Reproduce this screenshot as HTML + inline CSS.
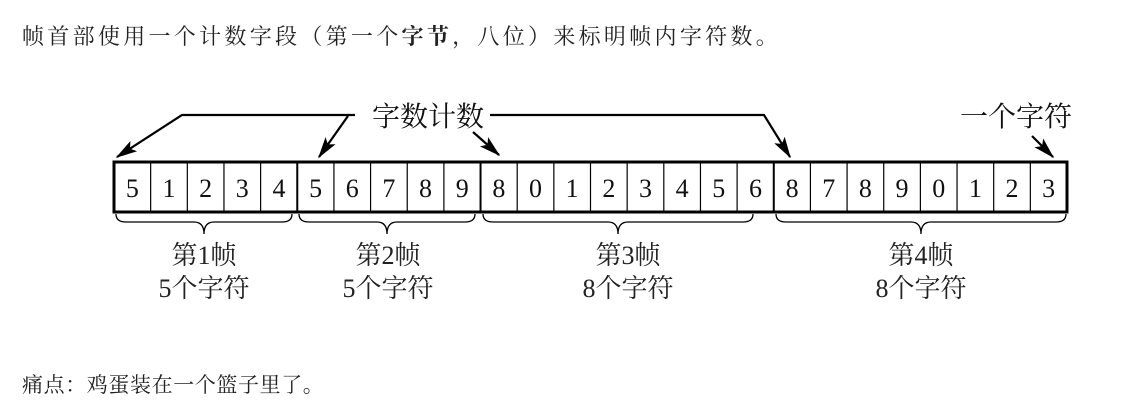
<!DOCTYPE html>
<html><head><meta charset="utf-8"><style>
body{margin:0;width:1145px;height:403px;background:#fff;overflow:hidden;font-family:"Liberation Serif","Noto Serif CJK SC",serif;}
.t{position:absolute;left:22px;color:#222;white-space:nowrap;font-family:"Liberation Serif","Noto Serif CJK SC","Noto Sans CJK SC",serif;}
</style></head><body>
<div class="t" style="top:20px;font-size:22px;letter-spacing:3.3px">帧首部使用一个计数字段（第一个<b>字节</b>，八位）来标明帧内字符数。</div>
<div class="t" style="top:369px;font-size:21px;letter-spacing:0.6px">痛点：鸡蛋装在一个篮子里了。</div>
<svg width="1145" height="403" style="position:absolute;left:0;top:0" font-family="Liberation Serif, Noto Serif CJK SC, serif">
<defs><marker id="a" viewBox="0 0 14 10" refX="13" refY="5" markerWidth="10" markerHeight="7" orient="auto"><path d="M0,1 L14,5 L0,9 L3,5z" fill="#000"/></marker></defs>
<g stroke="#000" fill="none" stroke-width="2.2">
<polyline points="355,115 182,115 117,157" marker-end="url(#a)"/>
<line x1="348" y1="116" x2="319" y2="157" marker-end="url(#a)"/>
<line x1="473" y1="132" x2="499" y2="155" marker-end="url(#a)"/>
<polyline points="490,115 764,115 790,157" marker-end="url(#a)"/>
<line x1="1032" y1="136" x2="1053" y2="157" marker-end="url(#a)"/>
</g>
<g font-size="28" text-anchor="middle" fill="#111">
<text x="428" y="126">字数计数</text>
<text x="1016" y="126">一个字符</text>
</g>
<g id="cells"></g>
<rect x="114" y="162" width="953" height="50" fill="none" stroke="#000" stroke-width="3"/>
<g stroke="#000" stroke-width="1.3" fill="none">
<path d="M116,214 q0,8 10,8 h68 q10,0 10,12 q0,-12 10,-12 h68 q10,0 10,-8"/>
<path d="M299,214 q0,8 10,8 h68 q10,0 10,12 q0,-12 10,-12 h68 q10,0 10,-8"/>
<path d="M483,214 q0,8 10,8 h115 q10,0 10,12 q0,-12 10,-12 h115 q10,0 10,-8"/>
<path d="M776,214 q0,8 10,8 h125 q10,0 10,12 q0,-12 10,-12 h125 q10,0 10,-8"/>
</g>
<g font-size="26" text-anchor="middle" fill="#222">
<text x="204" y="264">第1帧</text><text x="204" y="297">5个字符</text>
<text x="388" y="264">第2帧</text><text x="388" y="297">5个字符</text>
<text x="628" y="264">第3帧</text><text x="628" y="297">8个字符</text>
<text x="921" y="264">第4帧</text><text x="921" y="297">8个字符</text>
</g>
</svg>
<script>
var d="51234567898012345687890123",g=document.getElementById('cells'),w=953/26,s='';
for(var i=0;i<26;i++){var x=114+i*w;if(i>0)s+='<line x1="'+x+'" y1="162" x2="'+x+'" y2="212" stroke="#000" stroke-width="'+([5,10,18].indexOf(i)>=0?2:1.2)+'"/>';
s+='<text x="'+(x+w/2)+'" y="197" font-size="26" text-anchor="middle" fill="#111">'+d[i]+'</text>';}
g.innerHTML=s;
</script>
</body></html>
